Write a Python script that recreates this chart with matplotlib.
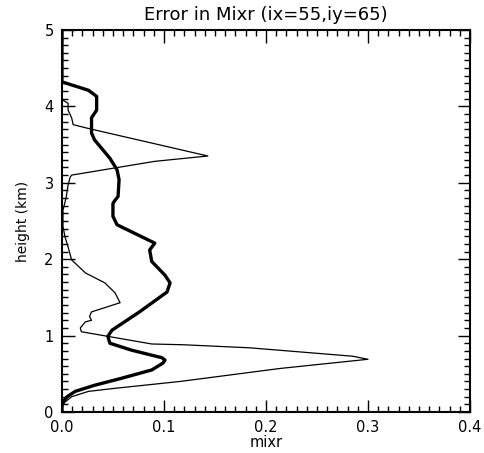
import matplotlib
matplotlib.use("Agg")
import matplotlib.pyplot as plt
from matplotlib.ticker import MultipleLocator

# thick curve: error profile
thick_x = [0.0, 0.0, 0.001, 0.005, 0.013, 0.032, 0.058, 0.088, 0.099, 0.101, 0.098,
           0.068, 0.047, 0.045, 0.047, 0.049, 0.076, 0.103, 0.106, 0.101, 0.088,
           0.086, 0.091, 0.054, 0.050, 0.050, 0.052, 0.055, 0.056, 0.054, 0.047,
           0.032, 0.029, 0.029, 0.034, 0.034, 0.030, 0.026, 0.0, 0.0]
thick_h = [0.0, 0.08, 0.13, 0.20, 0.27, 0.35, 0.44, 0.55, 0.64, 0.68, 0.71,
           0.81, 0.90, 0.99, 1.03, 1.07, 1.31, 1.57, 1.69, 1.79, 1.97,
           2.12, 2.21, 2.45, 2.56, 2.73, 2.77, 2.82, 3.04, 3.17, 3.32,
           3.56, 3.65, 3.85, 3.95, 4.13, 4.17, 4.21, 4.32, 5.0]

# thin curve
thin_x = [0.0, 0.0, 0.003, 0.0095, 0.026, 0.052, 0.116, 0.214, 0.300, 0.285,
          0.184, 0.119, 0.088, 0.045, 0.019, 0.018, 0.023, 0.029, 0.027, 0.029,
          0.036, 0.057, 0.052, 0.042, 0.023, 0.0095, 0.006, 0.003, 0.001, 0.001,
          0.004, 0.006, 0.008, 0.0095, 0.091, 0.143, 0.026, 0.011, 0.0095, 0.006,
          0.006, 0.001, 0.0, 0.0]
thin_h = [0.0, 0.08, 0.13, 0.20, 0.27, 0.31, 0.40, 0.57, 0.69, 0.73,
          0.84, 0.88, 0.89, 0.99, 1.05, 1.10, 1.18, 1.20, 1.25, 1.31,
          1.34, 1.43, 1.56, 1.69, 1.82, 1.99, 2.16, 2.29, 2.43, 2.64,
          2.80, 2.97, 3.07, 3.10, 3.28, 3.35, 3.71, 3.76, 3.85, 3.95,
          4.04, 4.08, 4.10, 5.0]

title = "Error in Mixr (ix=55,iy=65)"

fig = plt.figure(figsize=(4.84, 4.53), dpi=100)
ax = fig.add_axes([0.128, 0.0905, 0.843, 0.8435])

ax.plot(thin_x, thin_h, color="black", lw=0.9)
ax.plot(thick_x, thick_h, color="black", lw=2.4)

ax.set_xlim(0, 0.4)
ax.set_ylim(0, 5)
ax.xaxis.set_major_locator(MultipleLocator(0.1))
ax.xaxis.set_minor_locator(MultipleLocator(0.01))
ax.yaxis.set_major_locator(MultipleLocator(1))
ax.yaxis.set_minor_locator(MultipleLocator(0.1))
ax.xaxis.set_major_formatter(plt.FuncFormatter(lambda v, p: "%.1f" % v))
ax.yaxis.set_major_formatter(plt.FuncFormatter(lambda v, p: "%d" % round(v)))

ax.tick_params(which="both", direction="in", top=True, right=True,
               labelsize=10.5, width=1, pad=6)
ax.tick_params(which="major", length=9)
ax.tick_params(which="minor", length=4)
for s in ax.spines.values():
    s.set_linewidth(1.5)

ax.set_title(title, fontsize=13, pad=7)
ax.set_xlabel("mixr", fontsize=10.5, labelpad=0)
ax.set_ylabel("height (km)", fontsize=10, labelpad=10)

fig.savefig("out.png", dpi=100)
